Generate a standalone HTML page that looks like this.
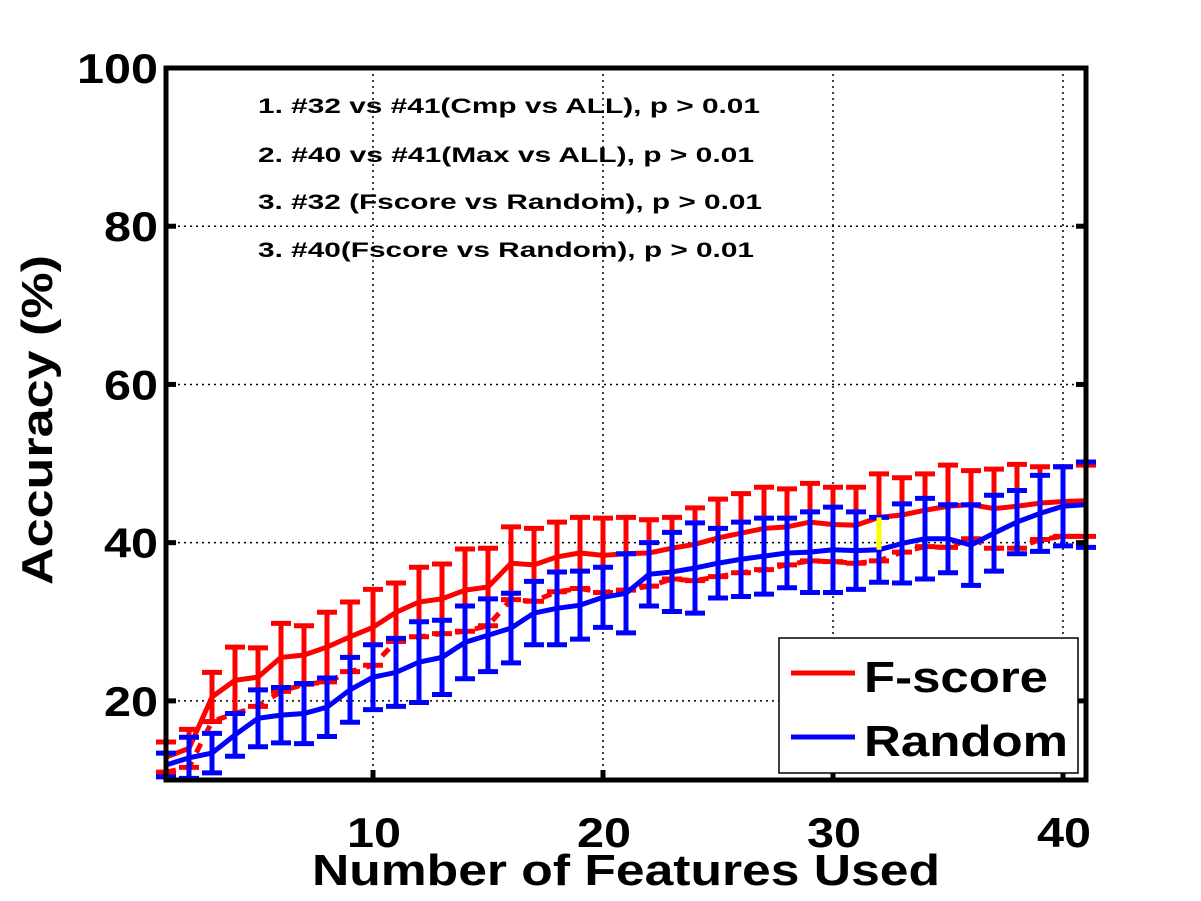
<!DOCTYPE html>
<html><head><meta charset="utf-8"><style>
body{margin:0;background:#fff}
svg{display:block;font-family:"Liberation Sans",Arial,sans-serif;font-weight:bold}
</style></head><body>
<svg id="chart" width="1201" height="901">
<rect x="0" y="0" width="1201" height="901" fill="#fff"/>
<g id="grid"></g>
<g id="marks"></g>
<rect x="166" y="68" width="920" height="712" fill="none" stroke="#000" stroke-width="5"/>
<g id="ticks"></g>
<g font-size="21" lengthAdjust="spacingAndGlyphs">
<text x="258" y="113" textLength="502" lengthAdjust="spacingAndGlyphs">1. #32 vs #41(Cmp vs ALL), p &gt; 0.01</text>
<text x="258" y="162" textLength="496" lengthAdjust="spacingAndGlyphs">2. #40 vs #41(Max vs ALL), p &gt; 0.01</text>
<text x="258" y="209" textLength="504" lengthAdjust="spacingAndGlyphs">3. #32 (Fscore vs Random), p &gt; 0.01</text>
<text x="258" y="257" textLength="496" lengthAdjust="spacingAndGlyphs">3. #40(Fscore vs Random), p &gt; 0.01</text>
</g>
<text x="312" y="885" font-size="44" textLength="628" lengthAdjust="spacingAndGlyphs">Number of Features Used</text>
<text transform="translate(52,420) rotate(-90)" font-size="44" text-anchor="middle" textLength="330" lengthAdjust="spacingAndGlyphs">Accuracy (%)</text>
<g>
<rect x="779" y="638" width="299" height="135" fill="#fff" stroke="#000" stroke-width="1.5"/>
<line x1="791" y1="673" x2="855" y2="673" stroke="#f00" stroke-width="5"/>
<text x="864" y="692" font-size="44" textLength="184" lengthAdjust="spacingAndGlyphs">F-score</text>
<line x1="791" y1="737" x2="855" y2="737" stroke="#00f" stroke-width="5"/>
<text x="864" y="756" font-size="44" textLength="204" lengthAdjust="spacingAndGlyphs">Random</text>
</g>
</svg>
<script>
const features=[];for(let i=1;i<=41;i++)features.push(i);
const fscoreMean=[12.9,14.0,20.5,22.6,23.0,25.5,25.8,26.8,28.1,29.3,31.2,32.5,32.9,34.0,34.4,37.4,37.2,38.2,38.7,38.4,38.6,38.7,39.3,39.8,40.6,41.2,41.8,42.0,42.6,42.3,42.2,43.2,43.5,44.1,44.6,44.8,44.3,44.6,45.0,45.2,45.3];
const fscoreErr=[1.9,2.4,3.1,4.2,3.7,4.3,3.7,4.4,4.4,4.8,3.7,4.4,4.4,5.2,4.9,4.6,4.6,4.4,4.5,4.7,4.6,4.2,3.9,4.6,4.9,5.0,5.2,4.8,4.9,4.7,4.8,5.5,4.7,4.6,5.2,4.3,5.0,5.3,4.6,4.4,4.5];
const randomMean=[11.9,12.8,13.4,15.7,17.8,18.2,18.4,19.2,21.4,23.0,23.6,24.9,25.5,27.4,28.3,29.2,31.1,31.7,32.1,33.1,33.6,36.0,36.3,36.8,37.4,37.9,38.3,38.7,38.8,39.1,39.0,39.1,39.9,40.5,40.5,39.7,41.2,42.6,43.7,44.6,44.8];
const randomErr=[1.5,2.6,2.5,2.7,3.6,3.5,3.8,3.7,4.1,4.1,4.3,5.1,4.7,4.6,4.6,4.4,4.0,4.6,4.3,3.8,5.0,4.0,5.0,5.7,4.4,4.7,4.8,4.4,5.1,5.4,4.9,4.1,5.0,5.1,4.3,5.1,4.8,4.0,4.8,5.0,5.4];
const xTicks=[10,20,30,40];
const yTicks=[20,40,60,80,100];
const NS='http://www.w3.org/2000/svg';
const X=v=>166+(v-1)*23;
const Y=v=>68+(100-v)*712/90;
function mk(p,tag,at){const e=document.createElementNS(NS,tag);for(const k in at)e.setAttribute(k,at[k]);p.appendChild(e);return e;}
const grid=document.getElementById('grid'),marks=document.getElementById('marks'),ticks=document.getElementById('ticks');
xTicks.forEach(t=>{
 const g=mk(grid,'line',{x1:X(t),x2:X(t),y1:68,y2:780,stroke:'#000','stroke-width':1.5,'stroke-dasharray':'2,4'});
 
 
 const tk=mk(ticks,'line',{x1:X(t),x2:X(t),y1:770,y2:780,stroke:'#000','stroke-width':5});
 
 
 const tx=mk(ticks,'text',{x:X(t)-26,y:847,'font-size':42,textLength:54,lengthAdjust:'spacingAndGlyphs'});tx.textContent=t;
 
 
});
yTicks.forEach(t=>{
 const g=mk(grid,'line',{x1:166,x2:1086,y1:Y(t),y2:Y(t),stroke:'#000','stroke-width':1.5,'stroke-dasharray':'2,4'});
 
 
 const tk=mk(ticks,'line',{x1:166,x2:176,y1:Y(t),y2:Y(t),stroke:'#000','stroke-width':5});
 
 
 const tk2=mk(ticks,'line',{x1:1076,x2:1086,y1:Y(t),y2:Y(t),stroke:'#000','stroke-width':5});
 
 
 const s=String(t);const w=s.length*27;
 const tx=mk(ticks,'text',{x:158-w,y:Y(t)+15,'font-size':42,textLength:w,lengthAdjust:'spacingAndGlyphs'});tx.textContent=s;
 
 
});
function series(mean,err,col,name,dashed){
 if(dashed){
 const low=mean.map((m,i)=>X(features[i])+','+Y(m-err[i])).join(' ');
 const d=mk(marks,'polyline',{points:low,fill:'none',stroke:col,'stroke-width':5,'stroke-dasharray':'10,10'});
 
 
 }
 mean.forEach((m,i)=>{
  const x=X(features[i]);
  const v=mk(marks,'line',{x1:x,x2:x,y1:Y(m+err[i]),y2:Y(m-err[i]),stroke:col,'stroke-width':5});
  
  
  [m+err[i],m-err[i]].forEach(e=>{
   const c=mk(marks,'line',{x1:x-10,x2:x+10,y1:Y(e),y2:Y(e),stroke:col,'stroke-width':5});
   
   
  });
 });
 const pts=mean.map((m,i)=>X(features[i])+','+Y(m)).join(' ');
 const l=mk(marks,'polyline',{points:pts,fill:'none',stroke:col,'stroke-width':5});
 
 
}
series(fscoreMean,fscoreErr,'#f00','fscore',true);
series(randomMean,randomErr,'#00f','random',false);
const i32=31;
const yl=mk(marks,'line',{x1:X(32),x2:X(32),y1:Y(fscoreMean[i32]),y2:Y(randomMean[i32]),stroke:'#ff0','stroke-width':5});


</script>
</body></html>
